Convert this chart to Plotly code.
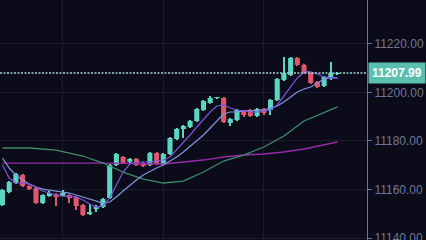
import plotly.graph_objects as go

# candle index
idx = list(range(51))

opens = [11153.60, 11158.96, 11162.68, 11165.98, 11161.44, 11160.61, 11154.43, 11157.32, 11158.14, 11157.73,
         11157.73, 11156.90, 11153.60, 11149.89, 11152.37, 11152.78, 11156.49, 11170.10, 11173.40, 11171.34,
         11172.57, 11170.92, 11170.10, 11175.05, 11170.51, 11174.64, 11180.82, 11184.94, 11185.77, 11188.24,
         11192.78, 11195.67, 11197.73, 11197.73, 11187.40, 11188.66, 11192.37, 11192.78, 11190.31, 11193.19,
         11192.78, 11196.90, 11205.15, 11207.21, 11214.22, 11211.34, 11208.04, 11204.33, 11202.68, 11206.39,
         11207.62]
highs = [11160.20, 11163.50, 11166.80, 11166.40, 11161.80, 11161.00, 11158.10, 11159.38, 11158.50, 11159.79,
         11158.10, 11157.30, 11154.00, 11154.02, 11153.60, 11156.50, 11170.50, 11175.05, 11173.80, 11173.00,
         11173.00, 11171.30, 11175.50, 11175.50, 11175.05, 11181.60, 11185.40, 11186.60, 11188.70, 11193.60,
         11196.90, 11198.55, 11198.10, 11198.10, 11189.50, 11193.20, 11192.80, 11193.20, 11193.60, 11193.60,
         11197.30, 11206.00, 11214.63, 11214.60, 11214.60, 11211.80, 11208.45, 11204.70, 11206.80, 11212.57,
         11208.40]
lows = [11153.20, 11158.50, 11162.30, 11161.00, 11159.80, 11154.00, 11154.00, 11157.00, 11153.19, 11157.40,
        11154.43, 11151.54, 11149.07, 11149.50, 11150.72, 11152.40, 11156.10, 11169.70, 11170.50, 11170.90,
        11169.70, 11169.30, 11169.70, 11170.10, 11170.10, 11174.20, 11180.40, 11181.23, 11185.40, 11187.80,
        11192.40, 11195.30, 11197.50, 11187.40, 11186.18, 11188.20, 11189.89, 11189.90, 11189.90, 11190.72,
        11190.72, 11196.50, 11204.70, 11206.80, 11210.90, 11207.60, 11203.50, 11201.80, 11202.30, 11205.15,
        11207.20]
closes = [11159.79, 11163.09, 11166.39, 11161.44, 11160.20, 11154.43, 11157.73, 11158.55, 11157.32, 11158.55,
          11156.49, 11153.19, 11149.48, 11150.72, 11152.78, 11156.08, 11170.10, 11174.64, 11170.92, 11172.57,
          11170.10, 11169.69, 11175.05, 11170.51, 11174.64, 11181.23, 11184.94, 11186.18, 11188.24, 11193.19,
          11196.49, 11197.73, 11197.90, 11187.83, 11189.07, 11192.78, 11190.72, 11190.31, 11193.19, 11191.54,
          11196.90, 11205.56, 11208.04, 11214.22, 11211.34, 11208.04, 11203.91, 11202.26, 11206.39, 11208.04,
          11207.99]

ma5 = [11170.10, 11164.74, 11162.68, 11162.68, 11162.26, 11161.03, 11159.38, 11158.55, 11157.73, 11157.32,
       11157.32, 11156.90, 11155.67, 11154.02, 11152.78, 11153.19, 11156.49, 11161.85, 11167.21, 11170.51,
       11171.34, 11171.34, 11171.34, 11171.75, 11172.16, 11173.40, 11176.28, 11179.17, 11182.47, 11185.77,
       11189.07, 11191.95, 11194.43, 11194.84, 11193.60, 11192.78, 11192.37, 11191.95, 11191.95, 11192.37,
       11192.78, 11194.84, 11198.55, 11202.68, 11205.98, 11208.45, 11208.45, 11207.62, 11206.39, 11205.98,
       11205.98]
ma10 = [11172.99, 11168.86, 11165.98, 11163.91, 11162.26, 11161.03, 11160.20, 11159.79, 11159.38, 11158.96,
        11158.55, 11157.73, 11156.90, 11156.08, 11155.25, 11154.43, 11154.84, 11156.90, 11159.38, 11161.85,
        11163.91, 11165.98, 11167.60, 11168.86, 11170.10, 11171.75, 11173.40, 11175.46, 11177.93, 11180.41,
        11182.47, 11185.36, 11188.24, 11191.13, 11191.95, 11191.95, 11192.37, 11192.37, 11192.78, 11192.78,
        11193.60, 11194.43, 11196.08, 11198.14, 11200.20, 11201.44, 11202.26, 11203.91, 11205.56, 11205.98,
        11205.98]

ma_slow_idx = [0, 4, 8, 12, 15, 18, 21, 24, 27, 30, 33, 36, 39, 42, 45, 48, 50]
ma_slow = [11177.11, 11177.11, 11176.28, 11173.81, 11170.92, 11167.21, 11164.33, 11162.68, 11163.50,
           11167.21, 11171.75, 11174.22, 11177.52, 11182.06, 11188.24, 11191.54, 11194.02]

ma_long_idx = [0, 8, 15, 24, 30, 33, 36, 39, 42, 45, 48, 50]
ma_long = [11170.92, 11170.92, 11170.92, 11170.51, 11172.16, 11173.40, 11174.22, 11174.64, 11175.46,
           11176.70, 11178.35, 11179.58]

last_price = 11207.99
y_ticks = [11140, 11160, 11180, 11200, 11220]
x_grid = [9, 24, 39]

BG = "#0b0b19"
UP = "#5cd6c2"
DOWN = "#e0566c"

colors = [UP if c >= o else DOWN for o, c in zip(opens, closes)]
body_base = [min(o, c) for o, c in zip(opens, closes)]
body_len = [max(abs(c - o), 0.35) for o, c in zip(opens, closes)]
wick_len = [h - l for h, l in zip(highs, lows)]

fig = go.Figure()
fig.add_trace(go.Scatter(x=ma_long_idx, y=ma_long, mode="lines",
                         line=dict(color="#9a2aa6", width=1.3), hoverinfo="skip"))
fig.add_trace(go.Scatter(x=ma_slow_idx, y=ma_slow, mode="lines",
                         line=dict(color="#3f8c69", width=1.3), hoverinfo="skip"))
# wicks
fig.add_trace(go.Bar(x=idx, y=wick_len, base=lows, width=0.16,
                     marker=dict(color=colors, line=dict(width=0)), hoverinfo="skip"))
# bodies
fig.add_trace(go.Bar(x=idx, y=body_len, base=body_base, width=0.76,
                     marker=dict(color=colors, line=dict(width=0)), hoverinfo="skip"))
fig.add_trace(go.Scatter(x=idx, y=ma10, mode="lines",
                         line=dict(color="#7f95e0", width=1.2), hoverinfo="skip"))
fig.add_trace(go.Scatter(x=idx, y=ma5, mode="lines",
                         line=dict(color="#7a55dc", width=1.2), hoverinfo="skip"))

fig.add_shape(type="line", xref="paper", x0=0, x1=1, yref="y", y0=last_price, y1=last_price,
              line=dict(color="#9fd6d2", width=1.5, dash="2px,1.5px"))

fig.add_annotation(xref="paper", x=1.0, xanchor="left", yref="y", y=last_price, yanchor="middle",
                   text="<b>" + f"{last_price:.2f}" + "</b>", showarrow=False,
                   bgcolor="#5bbfb0", font=dict(color="#ffffff", size=12, family="Liberation Sans"),
                   borderpad=3, xshift=1)

fig.update_layout(
    width=426, height=240,
    margin=dict(l=0, r=59, t=0, b=0, autoexpand=False),
    paper_bgcolor=BG, plot_bgcolor=BG,
    showlegend=False,
    barmode="overlay",
    xaxis=dict(range=[-0.37, 54.4], showticklabels=False, automargin=False,
               tickvals=x_grid, showgrid=True, gridcolor="#1b1b2e", gridwidth=1, zeroline=False,
               showline=False, ticks=""),
    yaxis=dict(side="right", range=[11139.2, 11238.1], tickvals=y_ticks, tickformat=".2f",
               automargin=False, ticklabeloverflow="allow",
               showgrid=True, gridcolor="#1b1b2e", gridwidth=1, zeroline=False,
               showline=True, linecolor="#6c72a8", linewidth=1,
               ticks="outside", ticklen=4, tickcolor="#6c72a8", ticklabelstandoff=0,
               tickfont=dict(color="#70759c", size=12, family="Liberation Sans")),
)

fig.write_html("out.html")
